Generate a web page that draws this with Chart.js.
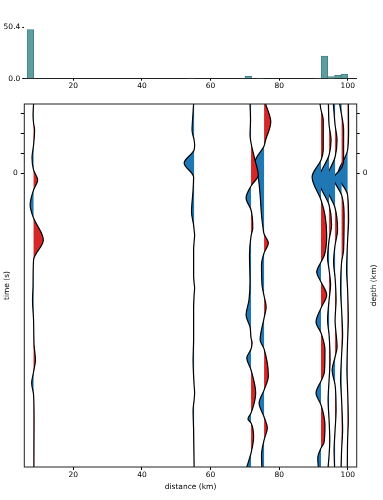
<!DOCTYPE html>
<html lang="en">
<head>
<meta charset="UTF-8">
<title>Wiggle section</title>
<style>
  body { margin: 0; background: #fff; }
  .wrap { position: relative; width: 383px; height: 500px; }
  #histBox { position: absolute; left: 0; top: 0; width: 383px; height: 96px; }
  #traceBox { position: absolute; left: 0; top: 96px; width: 383px; height: 404px; }
</style>
<script src="https://cdn.jsdelivr.net/npm/chart.js"></script>
</head>
<body>
<div class="wrap">
  <div id="histBox"><canvas id="histChart"></canvas></div>
  <div id="traceBox"><canvas id="traceChart"></canvas></div>
</div>
<script>
// axis ticks
const distanceTicks = [20, 40, 60, 80, 100];
const timeTicks = [-3, -2, -1, 0];
const countTicks = [0, 50.4];

// histogram of station distances (km)
const binCenters = [7.5, 54.1, 71.0, 74.5, 91.3, 93.2, 95.1, 97.1, 99.0];
const binCounts = [48.0, 0.5, 2.3, 0.7, 0.5, 22.0, 2.0, 3.3, 4.6];

// trace positions (km) and waveforms as [time, amplitude in km]
const traceOffsets = [8.4, 55.2, 71.8, 75.6, 92.2, 94.55, 96.3, 98.2, 99.95];
const wave1 = [[-3.45,0],[-2.9,-0.15],[-2.5,0],[-2.15,0.3],[-1.4,0],[-0.75,-0.45],[-0.15,0],[0.35,1.2],[0.85,0],[1.6,-1.0],[2.25,0],[3.35,2.85],[4.35,0],[5.6,-0.15],[6.35,-0.3],[7.35,0],[8.6,0.15],[9.35,0.55],[9.95,0],[10.5,-0.55],[11.1,0],[12.35,0.15],[14.7,0.1]];
const wave2 = [[-3.45,-0.15],[-2.65,-0.45],[-2.15,-0.6],[-1.65,0],[-1.4,0.15],[-1.15,0],[-0.5,-2.9],[0.2,-0.15],[0.85,-0.3],[1.95,-0.75],[2.6,-0.15],[2.85,0],[3.1,0.15],[3.45,0],[3.85,-0.15],[5.1,-0.15],[5.5,0],[5.75,0.15],[6.1,0],[6.85,-0.15],[8.35,-0.15],[9.35,-0.3],[10.6,0],[11.0,0.15],[11.35,0],[11.85,-0.3],[12.85,-0.15],[14.7,0]];
const wave3 = [[-3.45,-0.3],[-2.65,-0.15],[-1.9,-0.3],[-1.5,0],[-0.65,1.15],[0.1,2.1],[0.65,0],[1.25,-1.45],[1.85,0],[2.75,0.5],[3.15,0],[4.1,-0.45],[5.45,-0.3],[6.35,-0.6],[7.1,-1.45],[7.7,-0.3],[8.25,0],[8.5,0.3],[8.8,0],[9.25,-1.25],[9.85,0],[11.0,1.35],[12.0,0],[12.3,-0.9],[12.5,0],[13.2,0.75],[14.0,0],[14.7,-1.25]];
const wave4 = [[-3.45,0.45],[-2.55,1.95],[-1.65,0.45],[-1.35,0],[-0.55,-2.6],[0.35,-1.6],[1.1,-1.15],[2.1,-0.75],[2.75,-0.3],[3.05,0],[3.5,1.25],[4.0,0],[4.6,-0.75],[5.6,-0.6],[6.15,0],[6.7,0.6],[7.25,0],[8.35,-1.15],[8.8,0],[10.15,1.25],[10.85,0],[11.5,-1.45],[12.2,0],[12.75,0.95],[13.35,0],[14.1,-0.75],[14.7,-0.65]];
const wave5 = [[-3.45,-0.3],[-3.15,0],[-2.65,0.65],[-1.15,0.65],[-0.65,0],[0.2,-2.6],[1.35,0],[2.1,1.15],[3.1,1.65],[4.1,1.0],[4.45,0],[4.95,-1.25],[5.45,0],[6.1,1.65],[6.75,0],[7.45,-1.45],[8.0,0],[8.85,1.15],[9.95,1.0],[10.4,0],[11.0,-1.45],[11.6,0],[12.6,1.15],[13.5,0.85],[13.75,0],[14.25,-0.95],[14.7,-0.8]];
const wave6 = [[-3.45,-0.2],[-2.4,0],[-1.65,0.58],[-0.9,0],[0.35,-3.06],[1.6,0],[2.6,0.73],[3.35,0],[4.25,-0.44],[4.85,0],[5.6,0.44],[6.35,0],[7.35,-0.44],[8.1,0],[9.35,0.29],[10.35,0],[11.35,-0.29],[12.35,0],[13.35,0.2],[14.1,0],[14.7,-0.29]];
const wave7 = [[-3.45,-0.5],[-2.4,0],[-1.65,0.58],[-0.8,0],[0.5,-2.92],[1.75,0],[2.85,0.73],[3.6,0],[4.45,-0.44],[5.25,0],[6.35,0.29],[7.35,0],[8.7,0.58],[9.2,0],[9.85,-0.87],[10.6,0],[11.85,0.29],[12.85,0],[13.85,-0.29],[14.7,-0.15]];
const wave8 = [[-3.45,-0.58],[-2.9,0],[-2.15,0.58],[-0.65,0.58],[-0.25,0],[0.25,-2.33],[1.1,0],[2.1,0.73],[3.85,0.58],[4.45,0],[5.85,-0.29],[6.85,0],[8.1,0.29],[9.1,0],[10.35,-0.29],[11.35,0],[12.85,0.29],[13.85,0],[14.7,-0.15]];
const wave9 = [[-3.45,0.23],[-2.15,0.29],[-1.15,0],[0.1,-2.86],[1.1,0],[2.35,0.29],[3.35,0],[4.85,-0.29],[5.85,0],[7.35,0.2],[8.35,0],[9.85,-0.2],[10.85,0],[12.35,0.2],[13.35,0],[14.7,-0.09]];

const RED = '#d62728';
const BLUE = '#1f77b4';
const font = { family: 'DejaVu Sans', size: 7.5 };

// box around the trace panel, plus the right-hand axis label read bottom to top
const framePlugin = {
    id: 'frame',
    afterDraw(chart) {
        const { ctx, chartArea: a } = chart;
        ctx.save();
        ctx.strokeStyle = '#222';
        ctx.lineWidth = 1;
        ctx.strokeRect(a.left, a.top, a.right - a.left, a.bottom - a.top);
        ctx.translate(a.right + 17, (a.top + a.bottom) / 2);
        ctx.rotate(-Math.PI / 2);
        ctx.fillStyle = '#000';
        ctx.font = font.size + 'px "DejaVu Sans"';
        ctx.textAlign = 'center';
        ctx.textBaseline = 'middle';
        ctx.fillText('depth (km)', 0, 0);
        ctx.restore();
    }
};

function fixedTicks(list) {
    return scale => { scale.ticks = list.map(v => ({ value: v })); };
}

new Chart(document.getElementById('histChart'), {
    type: 'bar',
    data: {
        datasets: [{
            data: binCenters.map((c, i) => ({ x: c, y: binCounts[i] })),
            backgroundColor: '#5f9ea0',
            borderColor: '#3b7c7f',
            borderWidth: 0.8,
            barThickness: 6.6
        }]
    },
    options: {
        animation: false,
        responsive: true,
        maintainAspectRatio: false,
        layout: { padding: { top: 27, right: 26.3, left: 0, bottom: 0 } },
        plugins: { legend: { display: false }, tooltip: { enabled: false } },
        scales: {
            x: {
                type: 'linear', min: 5.7, max: 102.6, offset: false,
                afterBuildTicks: fixedTicks(distanceTicks),
                grid: { drawOnChartArea: false, offset: false, tickLength: 2, tickColor: '#000' },
                border: { display: true, color: '#222' },
                ticks: { color: '#000', font, padding: 1, maxRotation: 0 },
                afterFit: s => { s.height = 17.3; }
            },
            y: {
                type: 'linear', min: 0, max: 50.4,
                afterBuildTicks: fixedTicks(countTicks),
                grid: { drawOnChartArea: false, tickLength: 2, tickColor: '#000' },
                border: { display: false },
                ticks: { color: '#000', font, padding: 2, callback: v => v.toFixed(1) },
                afterFit: s => { s.width = 24.3; }
            }
        }
    }
});

const waves = [wave1, wave2, wave3, wave4, wave5, wave6, wave7, wave8, wave9];
const traceSets = waves.map((w, i) => {
    const base = traceOffsets[i];
    return {
        data: w.map(p => ({ x: base + p[1], y: p[0] })),
        borderColor: '#000',
        borderWidth: 1.2,
        pointRadius: 0,
        cubicInterpolationMode: 'monotone',
        fill: { value: base },
        backgroundColor: RED,
        segment: {
            backgroundColor: c => (c.p0.parsed.x + c.p1.parsed.x) / 2 >= base ? RED : BLUE
        }
    };
});

new Chart(document.getElementById('traceChart'), {
    type: 'line',
    data: { datasets: traceSets },
    options: {
        animation: false,
        responsive: true,
        maintainAspectRatio: false,
        indexAxis: 'y',
        layout: { padding: { top: 8, right: 0, left: 0, bottom: 0 } },
        plugins: { legend: { display: false }, tooltip: { enabled: false } },
        scales: {
            x: {
                type: 'linear', min: 5.7, max: 102.6, position: 'bottom',
                afterBuildTicks: fixedTicks(distanceTicks),
                grid: { drawOnChartArea: false, tickLength: 3, tickColor: '#000' },
                border: { display: false },
                ticks: { color: '#000', font, padding: 1, maxRotation: 0 },
                title: { display: true, text: 'distance (km)', color: '#000', font, padding: { top: 0, bottom: 8 } },
                afterFit: s => { s.height = 33; }
            },
            y: {
                type: 'linear', reverse: true, min: -3.45, max: 14.7, position: 'left',
                afterBuildTicks: fixedTicks(timeTicks),
                grid: { drawOnChartArea: false, tickLength: 3.5, tickColor: '#000' },
                border: { display: false },
                ticks: { color: '#000', font, padding: 3, callback: v => v === 0 ? '0' : '' },
                title: { display: true, text: 'time (s)', color: '#000', font, padding: 3 },
                afterFit: s => { s.width = 24.3; }
            },
            y2: {
                type: 'linear', reverse: true, min: -3.45, max: 14.7, position: 'right',
                afterBuildTicks: fixedTicks(timeTicks),
                grid: { drawOnChartArea: false, tickLength: 3, tickColor: '#000' },
                border: { display: false },
                ticks: { color: '#000', font, padding: 3, callback: v => v === 0 ? '0' : '' },
                afterFit: s => { s.width = 26.3; }
            }
        }
    },
    plugins: [framePlugin]
});
</script>
</body>
</html>
